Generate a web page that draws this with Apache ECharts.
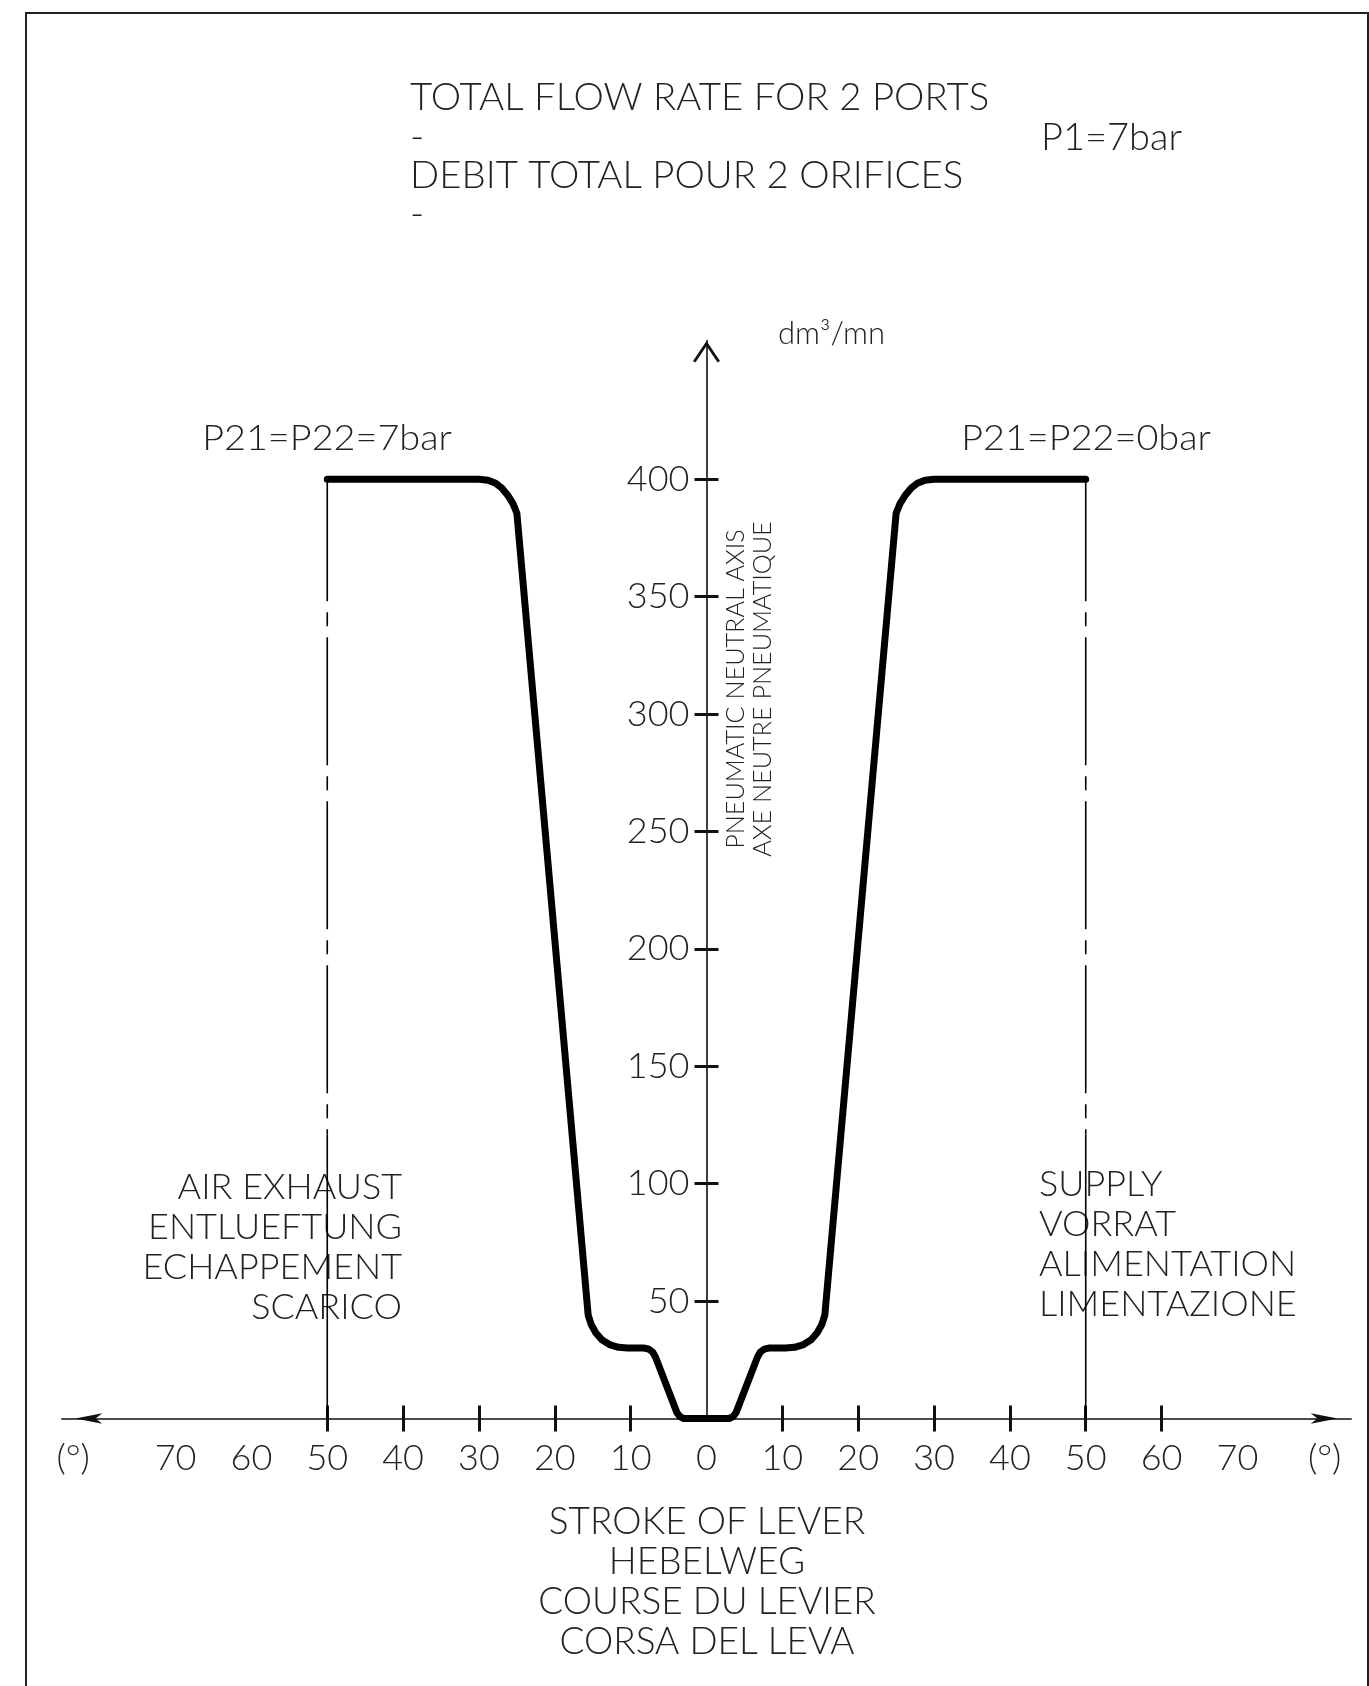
<!DOCTYPE html>
<html>
<head>
<meta charset="utf-8">
<script src="https://cdn.jsdelivr.net/npm/echarts@6/dist/echarts.min.js"></script>
<style>
html,body{margin:0;padding:0;background:#ffffff;}
#chart{width:1369px;height:1686px;}
</style>
</head>
<body>
<div id="chart"></div>
<script>
// ---- data ----
const strokeDeg = [-50, -30, -28.8, -27.8, -27.0, -26.2, -25.5, -25.0,
  -15.6, -15.2, -14.6, -13.8, -12.8, -11.6, -10.4, -8.2,
  -7.6, -7.1, -6.7, -3.9, -3.5, -3.0,
  3.0, 3.5, 3.9, 6.7, 7.1, 7.6,
  8.2, 10.4, 11.6, 12.8, 13.8, 14.6, 15.2, 15.6,
  25.0, 25.5, 26.2, 27.0, 27.8, 28.8, 30, 50];
const flowRate = [400, 400, 399.6, 398.3, 396.3, 393.2, 389.5, 385.5,
  44, 40, 36.5, 33.5, 31.5, 30.3, 30, 30,
  29.5, 28.3, 26, 2.5, 0.8, 0,
  0, 0.8, 2.5, 26, 28.3, 29.5,
  30, 30, 30.3, 31.5, 33.5, 36.5, 40, 44,
  385.5, 389.5, 393.2, 396.3, 398.3, 399.6, 400, 400];
const yTickValues = [50, 100, 150, 200, 250, 300, 350, 400];
const xTickValues = [-50, -40, -30, -20, -10, 10, 20, 30, 40, 50, 60];
const xLabelValues = [-70, -60, -50, -40, -30, -20, -10, 0, 10, 20, 30, 40, 50, 60, 70];
const unitLabelValues = [-83.5, 81.5];
const guideStroke = [-50, 50];
const guideBreaks = [400, 348, 121, 0];

const titleLines = ['TOTAL FLOW RATE FOR 2 PORTS', '-', 'DEBIT TOTAL POUR 2 ORIFICES', '-'];
const supplyPressure = 'P1=7bar';
const leftCondition = 'P21=P22=7bar';
const rightCondition = 'P21=P22=0bar';
const leftLines = ['AIR EXHAUST', 'ENTLUEFTUNG', 'ECHAPPEMENT', 'SCARICO'];
const rightLines = ['SUPPLY', 'VORRAT', 'ALIMENTATION', 'LIMENTAZIONE'];
const bottomLines = ['STROKE OF LEVER', 'HEBELWEG', 'COURSE DU LEVIER', 'CORSA DEL LEVA'];
const axisNote = ['PNEUMATIC NEUTRAL AXIS', 'AXE NEUTRE PNEUMATIQUE'];
const yUnit = 'dm³/mn';
const xUnit = '(°)';

// ---- chart ----
const FONT = 'Lato';
const INK = '#222';
const GRID_LEFT = 61.8, GRID_RIGHT = 17.8, W = 1369;
const ZERO_SHIFT = -((W - GRID_LEFT - GRID_RIGHT) / 2); // put the y axis on x = 0

const chart = echarts.init(document.getElementById('chart'), null, {renderer: 'canvas'});
const xLabelAll = unitLabelValues.slice(0, 1).concat(xLabelValues, unitLabelValues.slice(1));

const series = [{
  type: 'line',
  data: strokeDeg.map((x, i) => [x, flowRate[i]]),
  showSymbol: false,
  symbol: 'none',
  lineStyle: {color: '#000', width: 7, cap: 'round', join: 'round'},
  z: 6,
  silent: true
}];
guideStroke.forEach(g => {
  series.push({
    type: 'line', data: [[g, guideBreaks[0]], [g, guideBreaks[1]]],
    symbol: 'none', lineStyle: {color: '#000', width: 1.6}, z: 4, silent: true
  });
  series.push({
    type: 'line', data: [[g, guideBreaks[1]], [g, guideBreaks[2]]],
    symbol: 'none', lineStyle: {color: '#000', width: 1.6, type: [128, 11, 14, 11], dashOffset: 128}, z: 4, silent: true
  });
  series.push({
    type: 'line', data: [[g, guideBreaks[2]], [g, guideBreaks[3]]],
    symbol: 'none', lineStyle: {color: '#000', width: 1.6}, z: 4, silent: true
  });
});

function textEl(x, y, text, size, align, vAlign, extra, styleExtra) {
  return Object.assign({
    type: 'text', x: x, y: y, silent: true,
    style: Object.assign({
      text: text, fill: INK, fontFamily: FONT, fontWeight: 300, fontSize: size,
      textAlign: align, textVerticalAlign: vAlign
    }, styleExtra || {})
  }, extra || {});
}

const option = {
  animation: false,
  backgroundColor: '#ffffff',
  grid: {left: GRID_LEFT, right: GRID_RIGHT, top: 340.7, bottom: 267.5, containLabel: false, outerBoundsMode: 'none'},
  xAxis: [{
    type: 'value', min: -85, max: 85, position: 'bottom',
    splitLine: {show: false},
    axisLine: {show: true, onZero: false, symbol: ['arrow', 'arrow'], symbolSize: [8, 27], symbolOffset: [13.5, -13.5],
      lineStyle: {color: '#111', width: 1.6}},
    axisTick: {show: true, inside: false, length: 13, customValues: xTickValues, lineStyle: {color: '#111', width: 3}},
    axisLabel: {show: true, customValues: xLabelAll, margin: 40, verticalAlign: 'middle',
      color: INK, fontFamily: FONT, fontWeight: 300, fontSize: 36, hideOverlap: false,
      formatter: v => (Math.abs(v) > 75 ? xUnit : String(Math.abs(v)))}
  }, {
    type: 'value', min: -85, max: 85, position: 'bottom',
    splitLine: {show: false},
    axisLine: {show: false, onZero: false},
    axisTick: {show: true, inside: true, length: 13, customValues: xTickValues, lineStyle: {color: '#111', width: 3}},
    axisLabel: {show: false}
  }],
  yAxis: [{
    type: 'value', min: 0, max: 459, position: 'left', offset: ZERO_SHIFT,
    splitLine: {show: false},
    axisLine: {show: true, onZero: false,
      symbol: ['none', 'path://M0,20 L13.5,0 L27,20 L24.6,21.6 L13.5,5 L2.4,21.6 Z'],
      symbolSize: [27, 22], symbolOffset: [0, -11],
      lineStyle: {color: '#111', width: 1.6}},
    axisTick: {show: true, inside: false, length: 12, customValues: yTickValues, lineStyle: {color: '#111', width: 3}},
    axisLabel: {show: true, customValues: yTickValues, margin: 17, color: INK, fontFamily: FONT, fontWeight: 300, fontSize: 36}
  }, {
    type: 'value', min: 0, max: 459, position: 'left', offset: ZERO_SHIFT,
    splitLine: {show: false},
    axisLine: {show: false, onZero: false},
    axisTick: {show: true, inside: true, length: 12, customValues: yTickValues, lineStyle: {color: '#111', width: 3}},
    axisLabel: {show: false}
  }],
  series: series,
  graphic: {elements: [
    {type: 'polyline', silent: true, shape: {points: [[26, 1700], [26, 13], [1368, 13], [1368, 1700]]},
      style: {stroke: '#222', lineWidth: 2, fill: null}},
    textEl(410, 78.5, titleLines.join('\n'), 38, 'left', 'top', {scaleX: 1.01}, {lineHeight: 38.7}),
    textEl(1041, 138, supplyPressure, 38, 'left', 'middle'),
    textEl(327, 439, leftCondition, 35, 'center', 'middle', {scaleX: 1.08}),
    textEl(1086, 439, rightCondition, 35, 'center', 'middle', {scaleX: 1.08}),
    textEl(402, 1167, leftLines.join('\n'), 36, 'right', 'top', null, {lineHeight: 40}),
    textEl(1039, 1164, rightLines.join('\n'), 36, 'left', 'top', null, {lineHeight: 40}),
    textEl(707, 1502, bottomLines.join('\n'), 37, 'center', 'top', null, {lineHeight: 40}),
    textEl(749, 689, axisNote.join('\n'), 26, 'center', 'middle', {rotation: Math.PI / 2, scaleX: 0.97}, {lineHeight: 27.5}),
    textEl(778, 334, yUnit, 31, 'left', 'middle')
  ]}
};
chart.setOption(option);
</script>
</body>
</html>
